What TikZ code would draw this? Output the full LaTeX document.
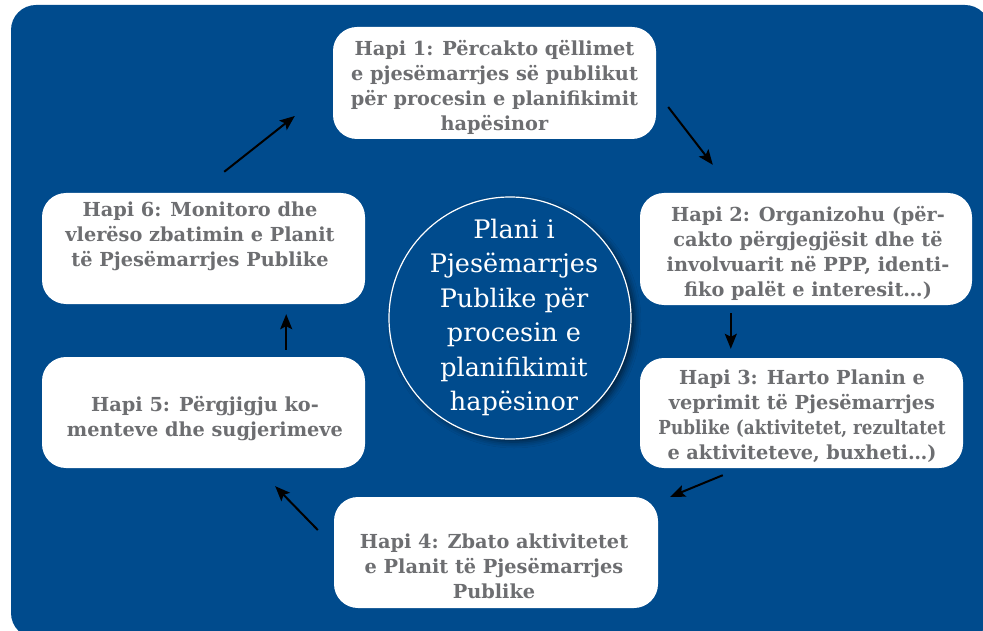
\documentclass[tikz,border=0pt]{standalone}
\usepackage{fontspec}
\setmainfont{DejaVu Serif}
\usetikzlibrary{calc,arrows.meta,shadows.blur}
\definecolor{bgblue}{RGB}{0,75,141}
\definecolor{txtgray}{RGB}{109,110,113}
\tikzset{
  stepbox/.style={draw=none,fill=white,rounded corners=24pt,inner sep=0pt},
  steptext/.style={align=center,text=txtgray,inner sep=0pt,
    font=\fontsize{19.3}{25}\selectfont\bfseries},
  conn/.style={line width=2pt,-{Stealth[length=15pt,width=12pt,inset=3pt]}},
  centertext/.style={align=center,text=white,inner sep=0pt,
    font=\fontsize{25.5}{34.4}\selectfont},
}
\begin{document}
\begin{tikzpicture}[x=1pt,y=-1pt]
\useasboundingbox (0,0) rectangle (983,631);
\clip (0,0) rectangle (983,631);
\fill[bgblue,rounded corners=25pt] (11,5) rectangle (990,638);

% boxes
\node[stepbox,minimum width=323pt,minimum height=112pt] (b1) at (494.5,83) {};
\node[stepbox,minimum width=332pt,minimum height=112pt] (b2) at (806,249) {};
\node[stepbox,minimum width=323pt,minimum height=110pt] (b3) at (801.5,413) {};
\node[stepbox,minimum width=324pt,minimum height=111pt] (b4) at (496,552.5) {};
\node[stepbox,minimum width=323pt,minimum height=111pt] (b5) at (203.5,412.5) {};
\node[stepbox,minimum width=323pt,minimum height=111pt] (b6) at (203.5,248.5) {};

% texts
\node[steptext] (t1) at (494.5,87.5) {Hapi 1: Përcakto qëllimet\\e pjesëmarrjes së publikut\\për procesin e planifikimit\\hapësinor};
\node[steptext] (t2) at (808,253) {Hapi 2: Organizohu (për-\\cakto përgjegjësit dhe të\\involvuarit në PPP, identi-\\fiko palët e interesit…)};
\node[steptext] (t3) at (802,416) {Hapi 3: Harto Planin e\\veprimit të Pjesëmarrjes\\\scalebox{0.87}[1]{Publike (aktivitetet, rezultatet}\\e aktiviteteve, buxheti…)};
\node[steptext] (t4) at (494,566) {Hapi 4: Zbato aktivitetet\\e Planit të Pjesëmarrjes\\Publike};
\node[steptext] (t5) at (205,418.5) {Hapi 5: Përgjigju ko-\\menteve dhe sugjerimeve};
\node[steptext] (t6) at (200,236.5) {Hapi 6: Monitoro dhe\\vlerëso zbatimin e Planit\\të Pjesëmarrjes Publike};

% center circle
\node[circle,draw=white,line width=1.2pt,fill=bgblue,minimum size=242pt,inner sep=0pt,
  blur shadow={shadow xshift=4pt,shadow yshift=-3pt,shadow blur radius=6pt,shadow opacity=55}] (c) at (510,318) {};
\node[centertext] (ct) at (514,317.5) {Plani i\\Pjesëmarrjes\\Publike për\\procesin e\\planifikimit\\hapësinor};

% connector end points
\coordinate (a1s) at ($(b1.east)+(12,24)$);
\coordinate (a1e) at ($(b2.north west)+(73,-28)$);
\coordinate (a2s) at ($(b2.south west)+(91,8)$);
\coordinate (a2e) at ($(b3.north west)+(91,-9)$);
\coordinate (a3s) at ($(b3.south west)+(83,7)$);
\coordinate (a3e) at ($(b4.north east)+(12,0)$);
\coordinate (a4s) at ($(b4.west)+(-16,-22.5)$);
\coordinate (a4e) at ($(b5.south east)+(-90,18)$);
\coordinate (a5s) at ($(b5.north east)+(-79,-7)$);
\coordinate (a5e) at ($(b6.south east)+(-79,10)$);
\coordinate (a6s) at ($(b6.north east)+(-141,-21)$);
\coordinate (a6e) at ($(b1.west)+(-38,33)$);

\draw[conn] (a1s) -- (a1e);
\draw[conn] (a2s) -- (a2e);
\draw[conn] (a3s) -- (a3e);
\draw[conn] (a4s) -- (a4e);
\draw[conn] (a5s) -- (a5e);
\draw[conn] (a6s) -- (a6e);
\end{tikzpicture}
\end{document}
